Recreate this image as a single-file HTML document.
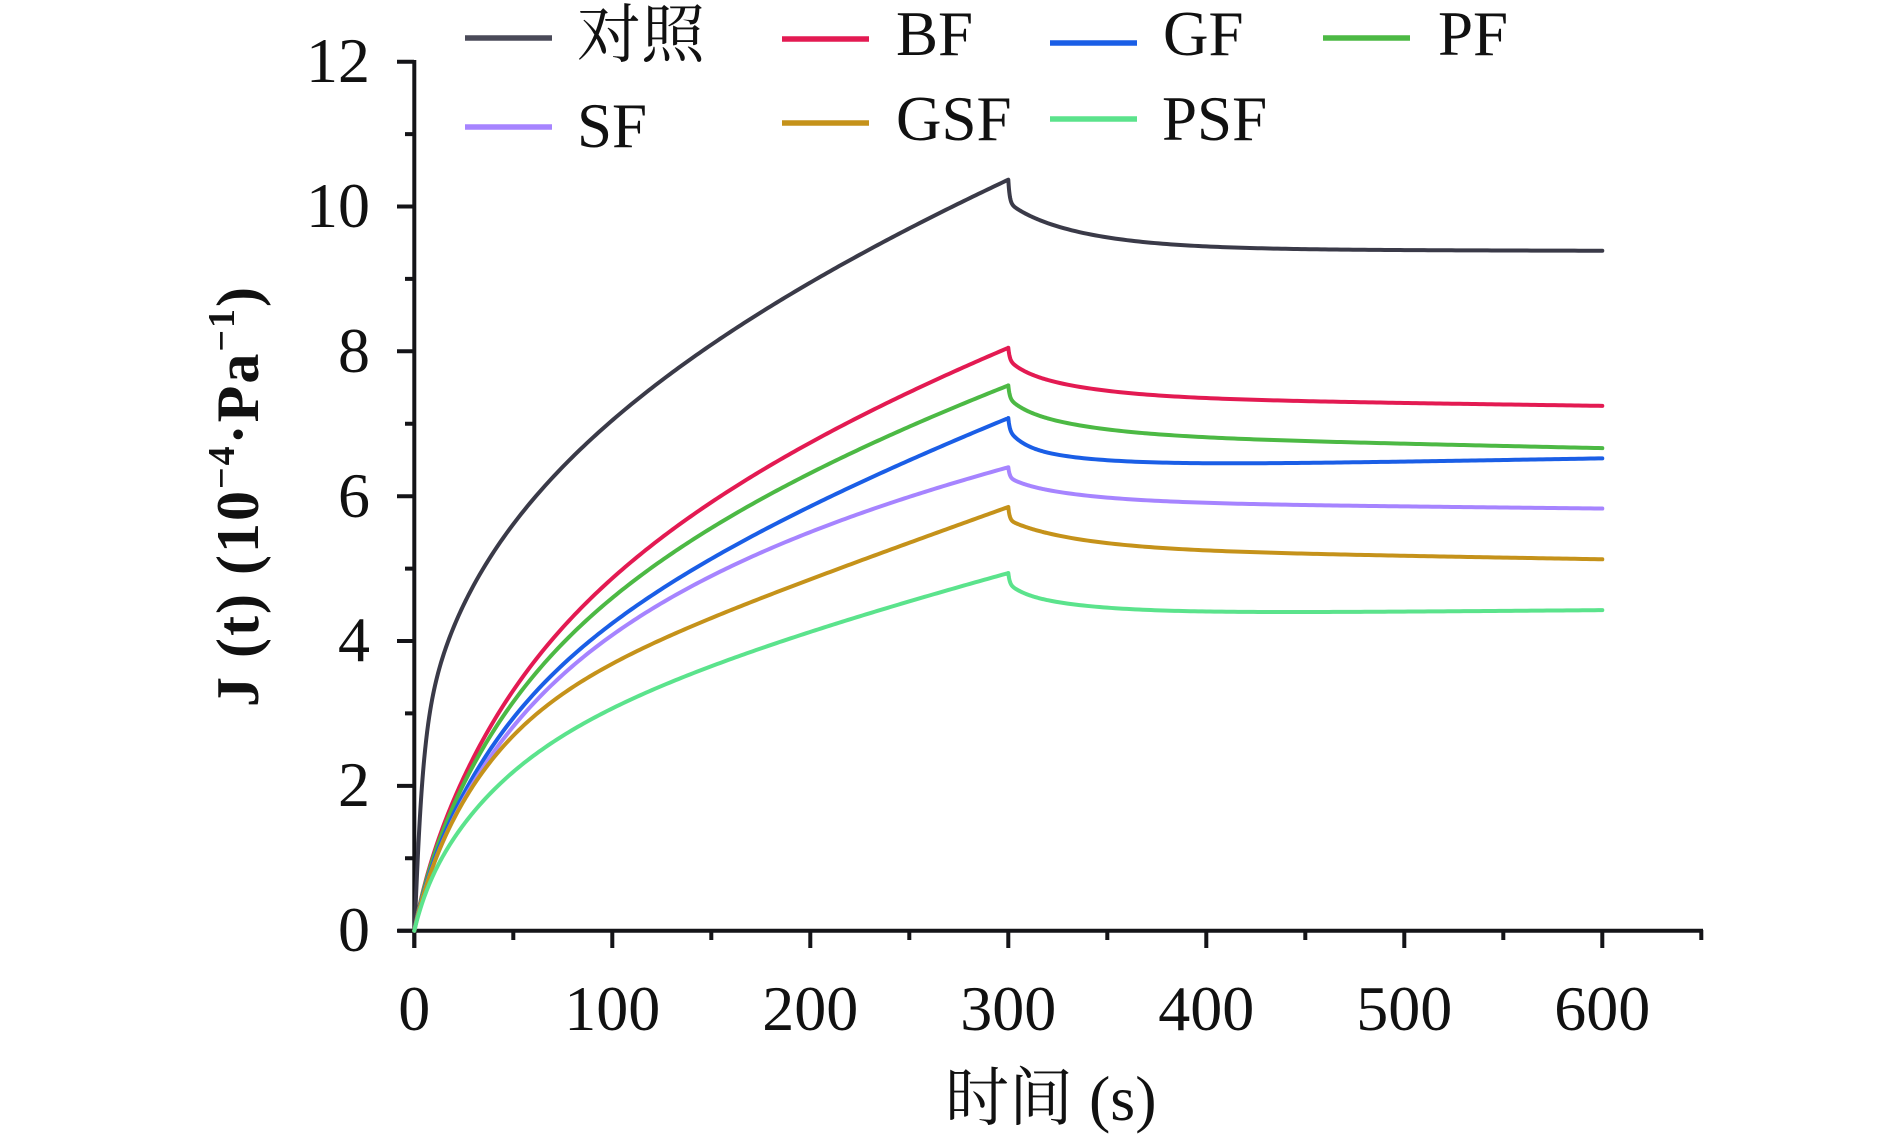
<!DOCTYPE html>
<html>
<head>
<meta charset="utf-8">
<style>
html,body{margin:0;padding:0;background:#fff;}
svg{display:block;}
text{font-family:"Liberation Serif","Noto Serif CJK SC",serif;fill:#111;}
</style>
</head>
<body>
<svg id="c" width="1890" height="1140" viewBox="0 0 1890 1140" xmlns="http://www.w3.org/2000/svg">
  <rect width="1890" height="1140" fill="#fff"/>
  <!-- axes -->
  <g stroke="#141418" stroke-width="4" fill="none">
    <path d="M414.3 60 V948"/>
    <path d="M398 930.7 H1703"/>
    <path d="M397 930.7 H414 M397 785.9 H414 M397 641 H414 M397 496.2 H414 M397 351.3 H414 M397 206.5 H414 M397 61.7 H414"/>
    <path d="M405 858.3 H414 M405 713.4 H414 M405 568.6 H414 M405 423.8 H414 M405 278.9 H414 M405 134.1 H414"/>
    <path d="M414.3 930 V948 M612.3 930 V948 M810.3 930 V948 M1008.3 930 V948 M1206.3 930 V948 M1404.3 930 V948 M1602.3 930 V948"/>
    <path d="M513.3 930 V940 M711.3 930 V940 M909.3 930 V940 M1107.3 930 V940 M1305.3 930 V940 M1503.3 930 V940 M1701.3 930 V940"/>
  </g>

  <!-- y tick labels -->
  <g font-size="64" text-anchor="end">
    <text x="370" y="951">0</text>
    <text x="370" y="806">2</text>
    <text x="370" y="661">4</text>
    <text x="370" y="517">6</text>
    <text x="370" y="372">8</text>
    <text x="370" y="227">10</text>
    <text x="370" y="82">12</text>
  </g>

  <!-- x tick labels -->
  <g font-size="64" text-anchor="middle">
    <text x="414.3" y="1030">0</text>
    <text x="612.3" y="1030">100</text>
    <text x="810.3" y="1030">200</text>
    <text x="1008.3" y="1030">300</text>
    <text x="1206.3" y="1030">400</text>
    <text x="1404.3" y="1030">500</text>
    <text x="1602.3" y="1030">600</text>
  </g>

  <!-- axis titles -->
  <text x="945" y="1120" font-size="64">时间 (s)</text>
  <text transform="translate(258,497) rotate(-90)" text-anchor="middle" font-weight="bold" font-size="60" textLength="420" lengthAdjust="spacing">J (t) (10<tspan font-size="38" dy="-24">−4</tspan><tspan dy="24">·Pa</tspan><tspan font-size="38" dy="-24">−1</tspan><tspan dy="24">)</tspan></text>

  <!-- legend -->
  <g stroke-width="5.5" stroke-linecap="butt">
    <line x1="465" y1="38" x2="552" y2="38" stroke="#4a4a58"/>
    <line x1="465" y1="127" x2="552" y2="127" stroke="#a684ff"/>
    <line x1="782" y1="39" x2="869" y2="39" stroke="#e31a52"/>
    <line x1="782" y1="123" x2="869" y2="123" stroke="#c5921a"/>
    <line x1="1050" y1="43" x2="1137" y2="43" stroke="#1a5ee6"/>
    <line x1="1050" y1="119" x2="1137" y2="119" stroke="#5be38c"/>
    <line x1="1323" y1="38" x2="1410" y2="38" stroke="#4cb944"/>
  </g>
  <g font-size="63">
    <text x="577" y="57" font-size="64">对照</text>
    <text x="577" y="147">SF</text>
    <text x="896" y="55">BF</text>
    <text x="896" y="140">GSF</text>
    <text x="1163" y="55">GF</text>
    <text x="1162" y="140">PSF</text>
    <text x="1438" y="55">PF</text>
  </g>

  <g id="curves" fill="none" stroke-width="4" stroke-linejoin="round" stroke-linecap="round"></g>
</svg>
<script>
(function(){
  var X=function(t){return 414.3+t*1.98;};
  var Y=function(j){return 930.7-j*72.42;};
  function solve(A,b){
    var n=b.length,i,j,k;
    var M=[];for(i=0;i<n;i++){M.push(A[i].slice());M[i].push(b[i]);}
    for(i=0;i<n;i++){
      var piv=i;for(k=i+1;k<n;k++)if(Math.abs(M[k][i])>Math.abs(M[piv][i]))piv=k;
      var tmp=M[i];M[i]=M[piv];M[piv]=tmp;
      for(k=i+1;k<n;k++){var f=M[k][i]/M[i][i];for(j=i;j<=n;j++)M[k][j]-=f*M[i][j];}
    }
    var x=new Array(n);
    for(i=n-1;i>=0;i--){var s=M[i][n];for(j=i+1;j<n;j++)s-=M[i][j]*x[j];x[i]=s/M[i][i];}
    return x;
  }
  function fit(pts,bases,wfun){
    var m=bases.length,A=[],b=[],i,j,k;
    for(i=0;i<m;i++){A.push(new Array(m).fill(0));b.push(0);}
    for(k=0;k<pts.length;k++){
      var t=pts[k][0],y=pts[k][1],w=wfun(k,pts.length);
      var f=bases.map(function(g){return g(t);});
      for(i=0;i<m;i++){b[i]+=w*f[i]*y;for(j=0;j<m;j++)A[i][j]+=w*f[i]*f[j];}
    }
    for(i=0;i<m;i++)A[i][i]+=1e-9;
    var c=solve(A,b);
    return function(t){var s=0;for(var i=0;i<m;i++)s+=c[i]*bases[i](t);return s;};
  }
  var riseB=[function(t){return 1-Math.exp(-t/6);},function(t){return 1-Math.exp(-t/35);},
             function(t){return 1-Math.exp(-t/140);},function(t){return t/300;}];
  var recB=[function(s){return 1;},function(s){return Math.exp(-s/0.7);},function(s){return Math.exp(-s/8);},
            function(s){return Math.exp(-s/40);},function(s){return s/300;}];
  function recPts(r){
    var P=r[0],V1=r[1],V2=r[2],V3=r[3],V4=r[4],V5=r[5],V6=r[6];
    return [[0,P],[0.6,P-0.7*(P-V1)],[2.3,V1],[7,V1-0.5*(V1-V2)],[19.5,V2],
            [35,V2-0.55*(V2-V3)],[53,V3],[80,V3-0.6*(V3-V4)],[120,V4],
            [180,V4-0.6*(V4-V5)],[248,V5],[300,V6]];
  }
  var S=[
    {c:'#3a3a48',ctrl:true,r:[10.37,10.05,9.77,9.57,9.42,9.39,9.39]},
    {c:'#e31a52',rise:[[10.1,1.11],[21.9,1.94],[33.7,2.54],[50.5,3.32],[67.3,3.97],[84.2,4.47],[104.4,4.98],[128,5.49],[151.5,5.95],[202,6.78],[250,7.38],[285.6,7.85],[300,8.05]],
      r:[8.05,7.86,7.60,7.46,7.33,7.26,7.25]},
    {c:'#4cb944',rise:[[10.1,1.07],[21.9,1.86],[33.7,2.43],[50.5,3.16],[67.3,3.77],[84.2,4.23],[104.4,4.70],[128,5.17],[151.5,5.59],[202,6.35],[250,6.92],[285.6,7.34],[300,7.53]],
      r:[7.53,7.33,7.08,6.91,6.79,6.71,6.66]},
    {c:'#1a5ee6',rise:[[10.1,1.0],[21.9,1.74],[33.7,2.27],[50.5,2.93],[67.3,3.48],[84.2,3.92],[104.4,4.33],[128,4.78],[151.5,5.2],[202,5.88],[250,6.42],[285.6,6.87],[300,7.08]],
      r:[7.08,6.87,6.61,6.47,6.46,6.50,6.52]},
    {c:'#a684ff',rise:[[10.1,0.95],[21.9,1.66],[33.7,2.18],[50.5,2.83],[67.3,3.36],[84.2,3.78],[104.4,4.15],[128,4.55],[151.5,4.92],[202,5.55],[250,5.98],[285.6,6.25],[300,6.40]],
      r:[6.40,6.25,6.09,5.97,5.90,5.84,5.83]},
    {c:'#c5921a',rise:[[5,0.55],[10.1,0.92],[16.8,1.35],[25,1.8],[33.7,2.17],[50.5,2.72],[67.3,3.15],[84.2,3.42],[101,3.66],[150,4.30],[199,4.87],[262.6,5.51],[285.6,5.71],[300,5.85]],
      r:[5.85,5.67,5.49,5.35,5.23,5.15,5.13]},
    {c:'#5be38c',rise:[[4,0.42],[10,0.8],[16.8,1.12],[30,1.62],[50.5,2.2],[75,2.7],[101,3.09],[135,3.5],[168,3.87],[215,4.22],[262.6,4.61],[285.6,4.78],[300,4.94]],
      r:[4.94,4.77,4.56,4.46,4.40,4.40,4.43]}
  ];
  var g=document.getElementById('curves');
  for(var s=0;s<S.length;s++){
    var se=S[s],fr,pk=se.r[0];
    if(se.ctrl){
      var k0=pk/(1.679*Math.pow(300,0.3)+0.00354*300);
      fr=function(t){return k0*(1.679*Math.pow(t,0.3)+0.00354*t)*(1-Math.exp(-t/2.5));};
    }else{
      fr=fit(se.rise,riseB,function(k,n){return k===n-1?40:1;});
    }
    var fc=fit(recPts(se.r),recB,function(k,n){return k===0?40:(k===n-1?4:1);});
    var pts=[],t;
    for(t=0;t<300;t+=(t<5?0.2:(t<30?0.5:1.5)))pts.push([t,t===0?0:fr(t)]);
    var off=fc(0)-pk;
    pts.push([300,fr(300)]);
    for(var u=0;u<=300;u+=(u<3?0.1:(u<20?0.5:2))){
      var v=fc(u);
      if(u<5)v-=off*(1-u/5);
      pts.push([300+u,v]);
    }
    var d='M'+X(pts[0][0]).toFixed(2)+' '+Y(pts[0][1]).toFixed(2);
    for(var i=1;i<pts.length;i++)d+=' L'+X(pts[i][0]).toFixed(2)+' '+Y(pts[i][1]).toFixed(2);
    var p=document.createElementNS('http://www.w3.org/2000/svg','path');
    p.setAttribute('d',d);p.setAttribute('stroke',se.c);
    g.appendChild(p);
  }
})();
</script>
</body>
</html>
